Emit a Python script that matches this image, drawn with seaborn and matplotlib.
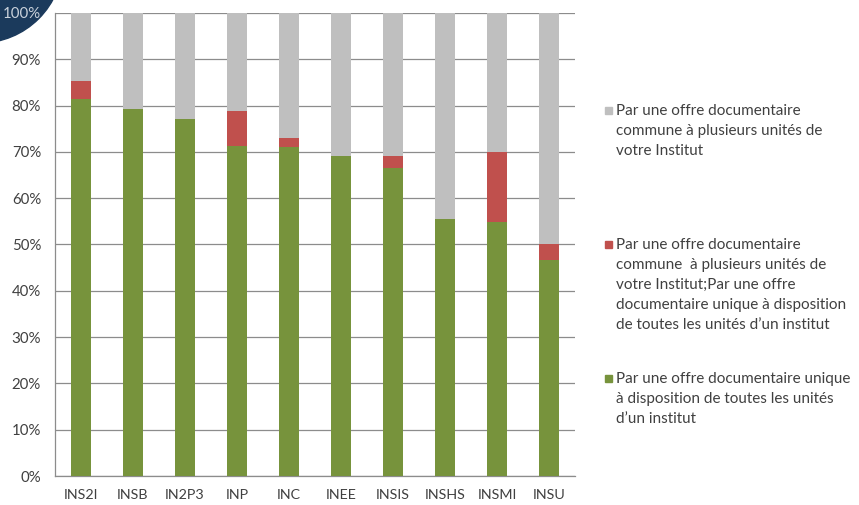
import numpy as np
import pandas as pd
import matplotlib
matplotlib.use("Agg")
import matplotlib.pyplot as plt
import matplotlib.patches as mpatches
from matplotlib.ticker import PercentFormatter, FixedLocator
import seaborn as sns

# data (percent of answers)
instituts = ['INS2I', 'INSB', 'IN2P3', 'INP', 'INC', 'INEE', 'INSIS', 'INSHS', 'INSMI', 'INSU']
unique = [81.4, 79.3, 77.1, 71.3, 71.0, 69.2, 66.6, 55.5, 54.9, 46.6]
les_deux = [3.9, 0.0, 0.0, 7.5, 2.0, 0.0, 2.6, 0.0, 15.1, 3.5]
commune = [100 - u - d for u, d in zip(unique, les_deux)]

labels = ["Par une offre documentaire\ncommune à plusieurs unités de\nvotre Institut",
          "Par une offre documentaire\ncommune  à plusieurs unités de\nvotre Institut;Par une offre\ndocumentaire unique à disposition\nde toutes les unités d\u2019un institut",
          "Par une offre documentaire unique\nà disposition de toutes les unités\nd\u2019un institut"]
colors = ['#BFBFBF', '#C0504D', '#77933C']

df = pd.DataFrame({'institut': instituts, 'unique': unique,
                   'deux': les_deux, 'commune': commune})
df['top_red'] = df['unique'] + df['deux']
df['total'] = df['top_red'] + df['commune']

sns.set_style("white")
plt.rcParams['font.family'] = ['Lato', 'DejaVu Sans']

fig = plt.figure(figsize=(8.59, 5.05), dpi=100)
ax = fig.add_axes([0.064, 0.0574, 0.6054, 0.917])

# stacked bars drawn as layered cumulative totals
for col, c in zip(['total', 'top_red', 'unique'], colors):
    sns.barplot(data=df, x='institut', y=col, color=c, width=0.39,
                saturation=1, linewidth=0, ax=ax, zorder=3)

ax.set_ylim(0, 100)
ax.set_xlim(-0.5, len(instituts) - 0.5)
ax.set_xlabel('')
ax.set_ylabel('')
ax.set_yticks(np.arange(0, 101, 10))
ax.yaxis.set_major_formatter(PercentFormatter(decimals=0))
ax.grid(axis='y', color='#8C8C8C', lw=0.9, zorder=0)
ax.grid(axis='x', visible=False)

for s in ['top', 'right']:
    ax.spines[s].set_visible(False)
for s in ['left', 'bottom']:
    ax.spines[s].set_color('#8C8C8C')
    ax.spines[s].set_linewidth(0.9)

ax.tick_params(axis='x', which='major', length=0, pad=9, labelsize=10.3, colors='#404040')
ax.xaxis.set_minor_locator(FixedLocator(np.arange(-0.5, len(instituts), 1.0)))
ax.tick_params(axis='x', which='minor', length=5, width=0.9, color='#8C8C8C', direction='out')
ax.tick_params(axis='y', length=7, width=0.9, color='#8C8C8C', direction='out',
               labelsize=10.8, labelcolor='#404040', pad=3)
ax.get_yticklabels()[-1].set_color('#C9D1DB')

# legend, entries placed like the original (marker on the first line)
W, H = 859, 505
first_line = [110, 244, 378]
for lab, col, yy in zip(labels, colors, first_line):
    fig.patches.append(mpatches.Rectangle((605 / W, 1 - (yy + 4) / H), 7 / W, 7 / H,
                                          transform=fig.transFigure, color=col))
    fig.text(616 / W, 1 - (yy - 6) / H, lab, ha='left', va='top', fontsize=11,
             color='#404040', linespacing=1.55)

# slide logo in the top-left corner
logo = mpatches.Circle((-20, 545), 83, transform=None, color='#1B3A5C', zorder=-1)
fig.patches.append(logo)

fig.savefig('out.png', dpi=100)
